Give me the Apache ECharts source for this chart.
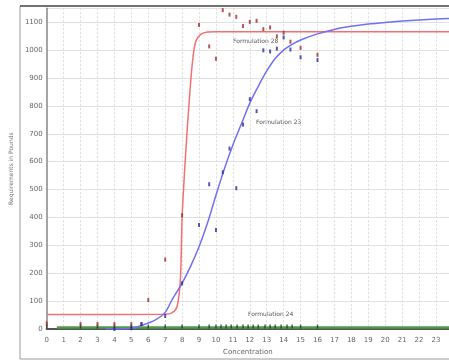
<!DOCTYPE html>
<html><head><meta charset="utf-8">
<script src="https://cdn.jsdelivr.net/npm/echarts@6/dist/echarts.min.js"></script>
<style>html,body{margin:0;padding:0;background:#fff}#c{width:449px;height:361px}</style>
</head><body><div id="c"></div>
<script>
// Formulation 28 (red) observed points
const redPtsX = [0,2,3,4,5,5.6,6,7,8,9,9.6,10,10.4,10.8,11.2,11.6,12,12.4,12.8,13.2,13.6,14,14.4,15,16];
const redPtsY = [20,18,18,18,18,18,104,249,408,1090,1013,969,1143,1127,1119,1086,1101,1105,1075,1081,1049,1062,1030,1008,983];
// Formulation 23 (blue) observed points
const bluePtsX = [4,5,5.6,7,8,9,9.6,10,10.4,10.8,11.2,11.6,12,12.4,12.8,13.2,13.6,14,14.4,15,16];
const bluePtsY = [0,3,18,47,164,373,519,355,562,647,505,733,824,781,999,995,1005,1045,1002,974,964];
// Formulation 24 (green) observed points
const greenPtsX = [0,2,3,4,5,6,7,8,9,9.6,10,10.3,10.6,10.9,11.25,11.6,11.9,12.2,12.5,12.9,13.2,13.5,13.85,14.2,14.5,15,16];
const greenPtsY = [9,9,9,9,9,9,9,9,9,9,9,9,9,9,9,9,9,9,9,9,9,9,9,9,9,9,9];
// fitted curves
const redFitX = [0,7,7.4,7.7,7.9,8.0,8.2,8.4,8.6,8.8,9.1,9.5,10,23.8];
const redFitY = [52,53,58,80,180,400,620,800,950,1030,1056,1065,1066,1066];
const blueFitX = [3.5,4.5,5,5.6,6.4,7,7.4,8,8.5,9,9.5,10,10.5,11,11.5,12,12.5,13,13.5,14,14.5,15,16,17,18,19,20,21,22,23,23.8];
const blueFitY = [0,1,3,13,32,60,105,165,225,295,380,480,575,660,735,810,870,925,970,1000,1020,1036,1058,1074,1085,1093,1099,1104,1108,1111,1113];
const greenFitX = [0.6,23.8];
const greenFitY = [6,6];
const labels = ["Formulation 28","Formulation 23","Formulation 24"];

const zip = (a,b)=>a.map((v,i)=>[v,b[i]]);
const chart = echarts.init(document.getElementById('c'));
const lbl = {color:'#666',fontSize:7,fontFamily:'DejaVu Sans',formatter:v=>String(v)};
chart.setOption({
  animation:false,
  grid:{left:44,right:0,top:8.2,bottom:28.7},
  xAxis:{type:'value',min:0,max:23.77,interval:1,
    name:'Concentration',nameLocation:'middle',nameGap:17,nameTextStyle:{color:'#666',fontSize:7,fontFamily:'DejaVu Sans'},
    axisLine:{lineStyle:{color:'#555',width:2}},axisTick:{show:false},
    axisLabel:Object.assign({showMaxLabel:false,margin:8},lbl),
    splitLine:{show:true,lineStyle:{color:'#ddd',type:[2,2]}}},
  yAxis:{type:'value',min:0,max:1150,interval:100,
    name:'Requirements in Pounds',nameLocation:'middle',nameGap:19,nameTextStyle:{color:'#777',fontSize:6,fontFamily:'DejaVu Sans'},
    axisLine:{show:true,lineStyle:{color:'#888',width:1.5}},axisTick:{show:false},
    axisLabel:Object.assign({showMaxLabel:false,margin:4},lbl),
    splitLine:{show:true,lineStyle:{color:'#e2e2e2'}}},
  graphic:[
    {type:'rect',shape:{x:20,y:6,width:440,height:353},style:{fill:'none',stroke:'#999',lineWidth:1},silent:true,z:-1},
    {type:'line',shape:{x1:20,y1:6,x2:449,y2:6},style:{stroke:'#555',lineWidth:1.5},silent:true},
    {type:'text',left:233,top:38,style:{text:labels[0],fill:'#555',fontSize:6,fontFamily:'DejaVu Sans'}},
    {type:'text',left:256,top:119,style:{text:labels[1],fill:'#555',fontSize:6,fontFamily:'DejaVu Sans'}},
    {type:'text',left:248,top:311,style:{text:labels[2],fill:'#555',fontSize:6,fontFamily:'DejaVu Sans'}}
  ],
  series:[
    {type:'line',data:zip(greenFitX,greenFitY),showSymbol:false,lineStyle:{color:'#4d9a4d',width:2.5},z:2},
    {type:'line',data:zip(redFitX,redFitY),showSymbol:false,smooth:0.3,lineStyle:{color:'#f47070',width:1.5},z:3},
    {type:'line',data:zip(blueFitX,blueFitY),showSymbol:false,smooth:0.3,lineStyle:{color:'#7070f0',width:1.5},z:3},
    {type:'scatter',data:zip(greenPtsX,greenPtsY),symbol:'rect',symbolSize:[1.5,4],itemStyle:{color:'#1e3d1e'},z:4},
    {type:'scatter',data:zip(redPtsX,redPtsY),symbol:'rect',symbolSize:[2,4],itemStyle:{color:'#a32a2a'},z:5},
    {type:'scatter',data:zip(bluePtsX,bluePtsY),symbol:'rect',symbolSize:[2,4],itemStyle:{color:'#2a2aa3'},z:5}
  ]
});
</script></body></html>
